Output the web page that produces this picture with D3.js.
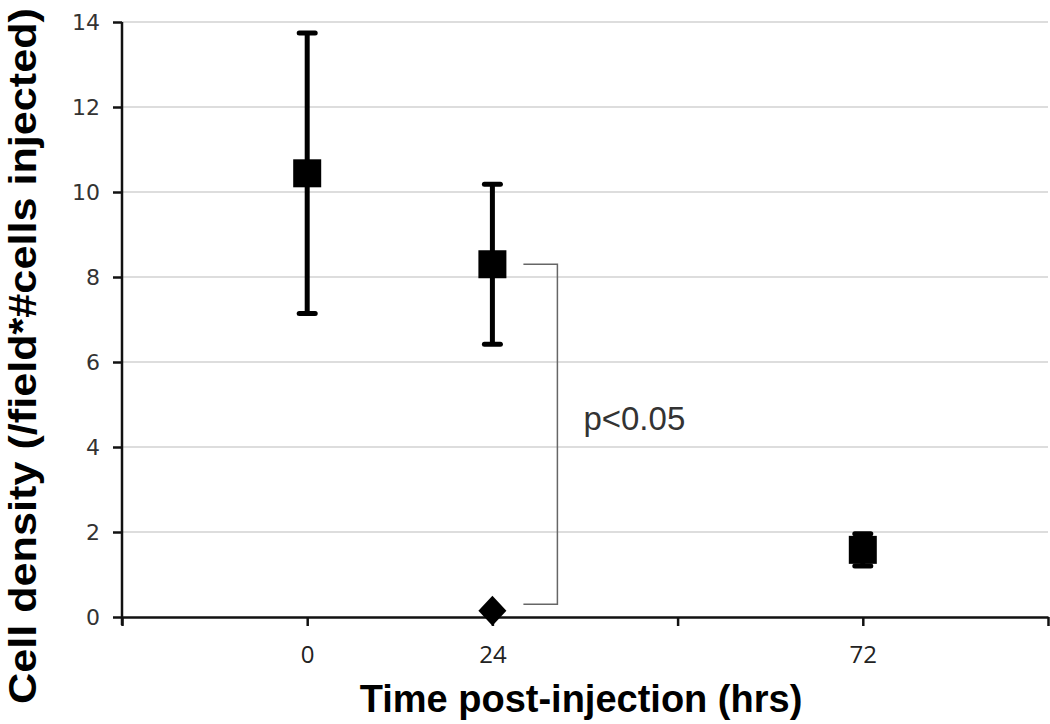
<!DOCTYPE html>
<html><head><meta charset="utf-8">
<script src="https://cdn.jsdelivr.net/npm/d3@7"></script>
<style>body{margin:0;background:#fff}svg{display:block}</style>
</head><body>
<script>
// ---- data ----
const xTickLabels = ["", "0", "24", "", "72", ""];
const yTicks = [0, 2, 4, 6, 8, 10, 12, 14];
const squareTimes = ["0", "24", "72"];
const squareMeans = [10.44, 8.30, 1.58];
const squareSD = [3.30, 1.88, 0.38];
const diamondTimes = ["24"];
const diamondMeans = [0.15];
const bracketValues = [8.30, 0.30];
const bracketLabel = "p<0.05";
const xTitle = "Time post-injection (hrs)";
const yTitle = "Cell density (/field*#cells injected)";

const W = 1050, H = 724;
const mLeft = 122, mRight = 1048, mTop = 22, mBottom = 617;

const svg = d3.select("body").append("svg").attr("width", W).attr("height", H);

const x = d3.scaleLinear().domain([0, xTickLabels.length - 1]).range([mLeft, mRight]);
const y = d3.scaleLinear().domain([0, 14]).range([mBottom, mTop]);
const xi = t => x(xTickLabels.indexOf(t));

// gridlines
svg.append("g").selectAll("line").data(yTicks.filter(d => d > 0)).join("line")
  .attr("x1", mLeft).attr("x2", mRight)
  .attr("y1", d => y(d)).attr("y2", d => y(d))
  .attr("stroke", "#d2d2d2").attr("stroke-width", 1.5);

// y axis
const yAxis = svg.append("g").attr("transform", `translate(${mLeft},0)`)
  .call(d3.axisLeft(y).tickValues(yTicks).tickSize(9).tickPadding(13).tickSizeOuter(0));
yAxis.select(".domain").attr("stroke", "#111").attr("stroke-width", 2.5)
  .attr("d", `M0,${y(14)}V${mBottom + 8}`);
yAxis.selectAll(".tick line").attr("stroke", "#111").attr("stroke-width", 2.5);
yAxis.selectAll(".tick text").attr("font-family", "DejaVu Sans").attr("font-size", 22)
  .attr("fill", "#333");

// x axis
const xAxis = svg.append("g").attr("transform", `translate(0,${mBottom})`)
  .call(d3.axisBottom(x).tickValues(d3.range(xTickLabels.length))
    .tickFormat(i => xTickLabels[i]).tickSize(9).tickPadding(20).tickSizeOuter(0));
xAxis.select(".domain").attr("stroke", "#111").attr("stroke-width", 2.5);
xAxis.selectAll(".tick line").attr("stroke", "#111").attr("stroke-width", 2.5);
xAxis.selectAll(".tick text").attr("font-family", "Open Sans").attr("font-size", 24)
  .attr("fill", "#222");

// error bars
const sq = squareTimes.map((t, i) => ({t, m: squareMeans[i], sd: squareSD[i]}));
const eb = svg.append("g").attr("stroke", "#000").attr("stroke-width", 5);
eb.selectAll("line.v").data(sq).join("line").attr("class", "v")
  .attr("x1", d => xi(d.t)).attr("x2", d => xi(d.t))
  .attr("y1", d => y(d.m + d.sd)).attr("y2", d => y(d.m - d.sd));
eb.selectAll("line.cap1").data(sq).join("line").attr("class", "cap1")
  .attr("x1", d => xi(d.t) - 8).attr("x2", d => xi(d.t) + 8)
  .attr("y1", d => y(d.m + d.sd)).attr("y2", d => y(d.m + d.sd))
  .attr("stroke-linecap", "round");
eb.selectAll("line.cap2").data(sq).join("line").attr("class", "cap2")
  .attr("x1", d => xi(d.t) - 8).attr("x2", d => xi(d.t) + 8)
  .attr("y1", d => y(d.m - d.sd)).attr("y2", d => y(d.m - d.sd))
  .attr("stroke-linecap", "round");

// square markers
const s = 28;
svg.append("g").selectAll("rect").data(sq).join("rect")
  .attr("x", d => xi(d.t) - s / 2).attr("y", d => y(d.m) - s / 2)
  .attr("width", s).attr("height", s).attr("fill", "#000");

// diamond markers
const dm = diamondTimes.map((t, i) => ({t, m: diamondMeans[i]}));
svg.append("g").selectAll("path").data(dm).join("path")
  .attr("transform", d => `translate(${xi(d.t)},${y(d.m)})`)
  .attr("d", "M0,-15L14,0L0,15L-14,0Z").attr("fill", "#000");

// significance bracket
const bx0 = xi("24") + 31, bx1 = xi("24") + 65;
svg.append("path")
  .attr("d", `M${bx0},${y(bracketValues[0])}H${bx1}V${y(bracketValues[1])}H${bx0}`)
  .attr("fill", "none").attr("stroke", "#666").attr("stroke-width", 1.5);
svg.append("text").attr("x", bx1 + 26).attr("y", 430)
  .attr("font-family", "Liberation Sans").attr("font-size", 33).attr("fill", "#333")
  .text(bracketLabel);

// axis titles
svg.append("text").attr("x", 581).attr("y", 712).attr("text-anchor", "middle")
  .attr("font-family", "Liberation Sans").attr("font-weight", "bold").attr("font-size", 38)
  .attr("fill", "#000").text(xTitle);
svg.append("text").attr("transform", "translate(36,356) rotate(-90)")
  .attr("text-anchor", "middle")
  .attr("font-family", "Liberation Sans").attr("font-weight", "bold").attr("font-size", 38)
  .attr("textLength", 696).attr("lengthAdjust", "spacingAndGlyphs")
  .attr("fill", "#000").text(yTitle);
</script>
</body></html>
